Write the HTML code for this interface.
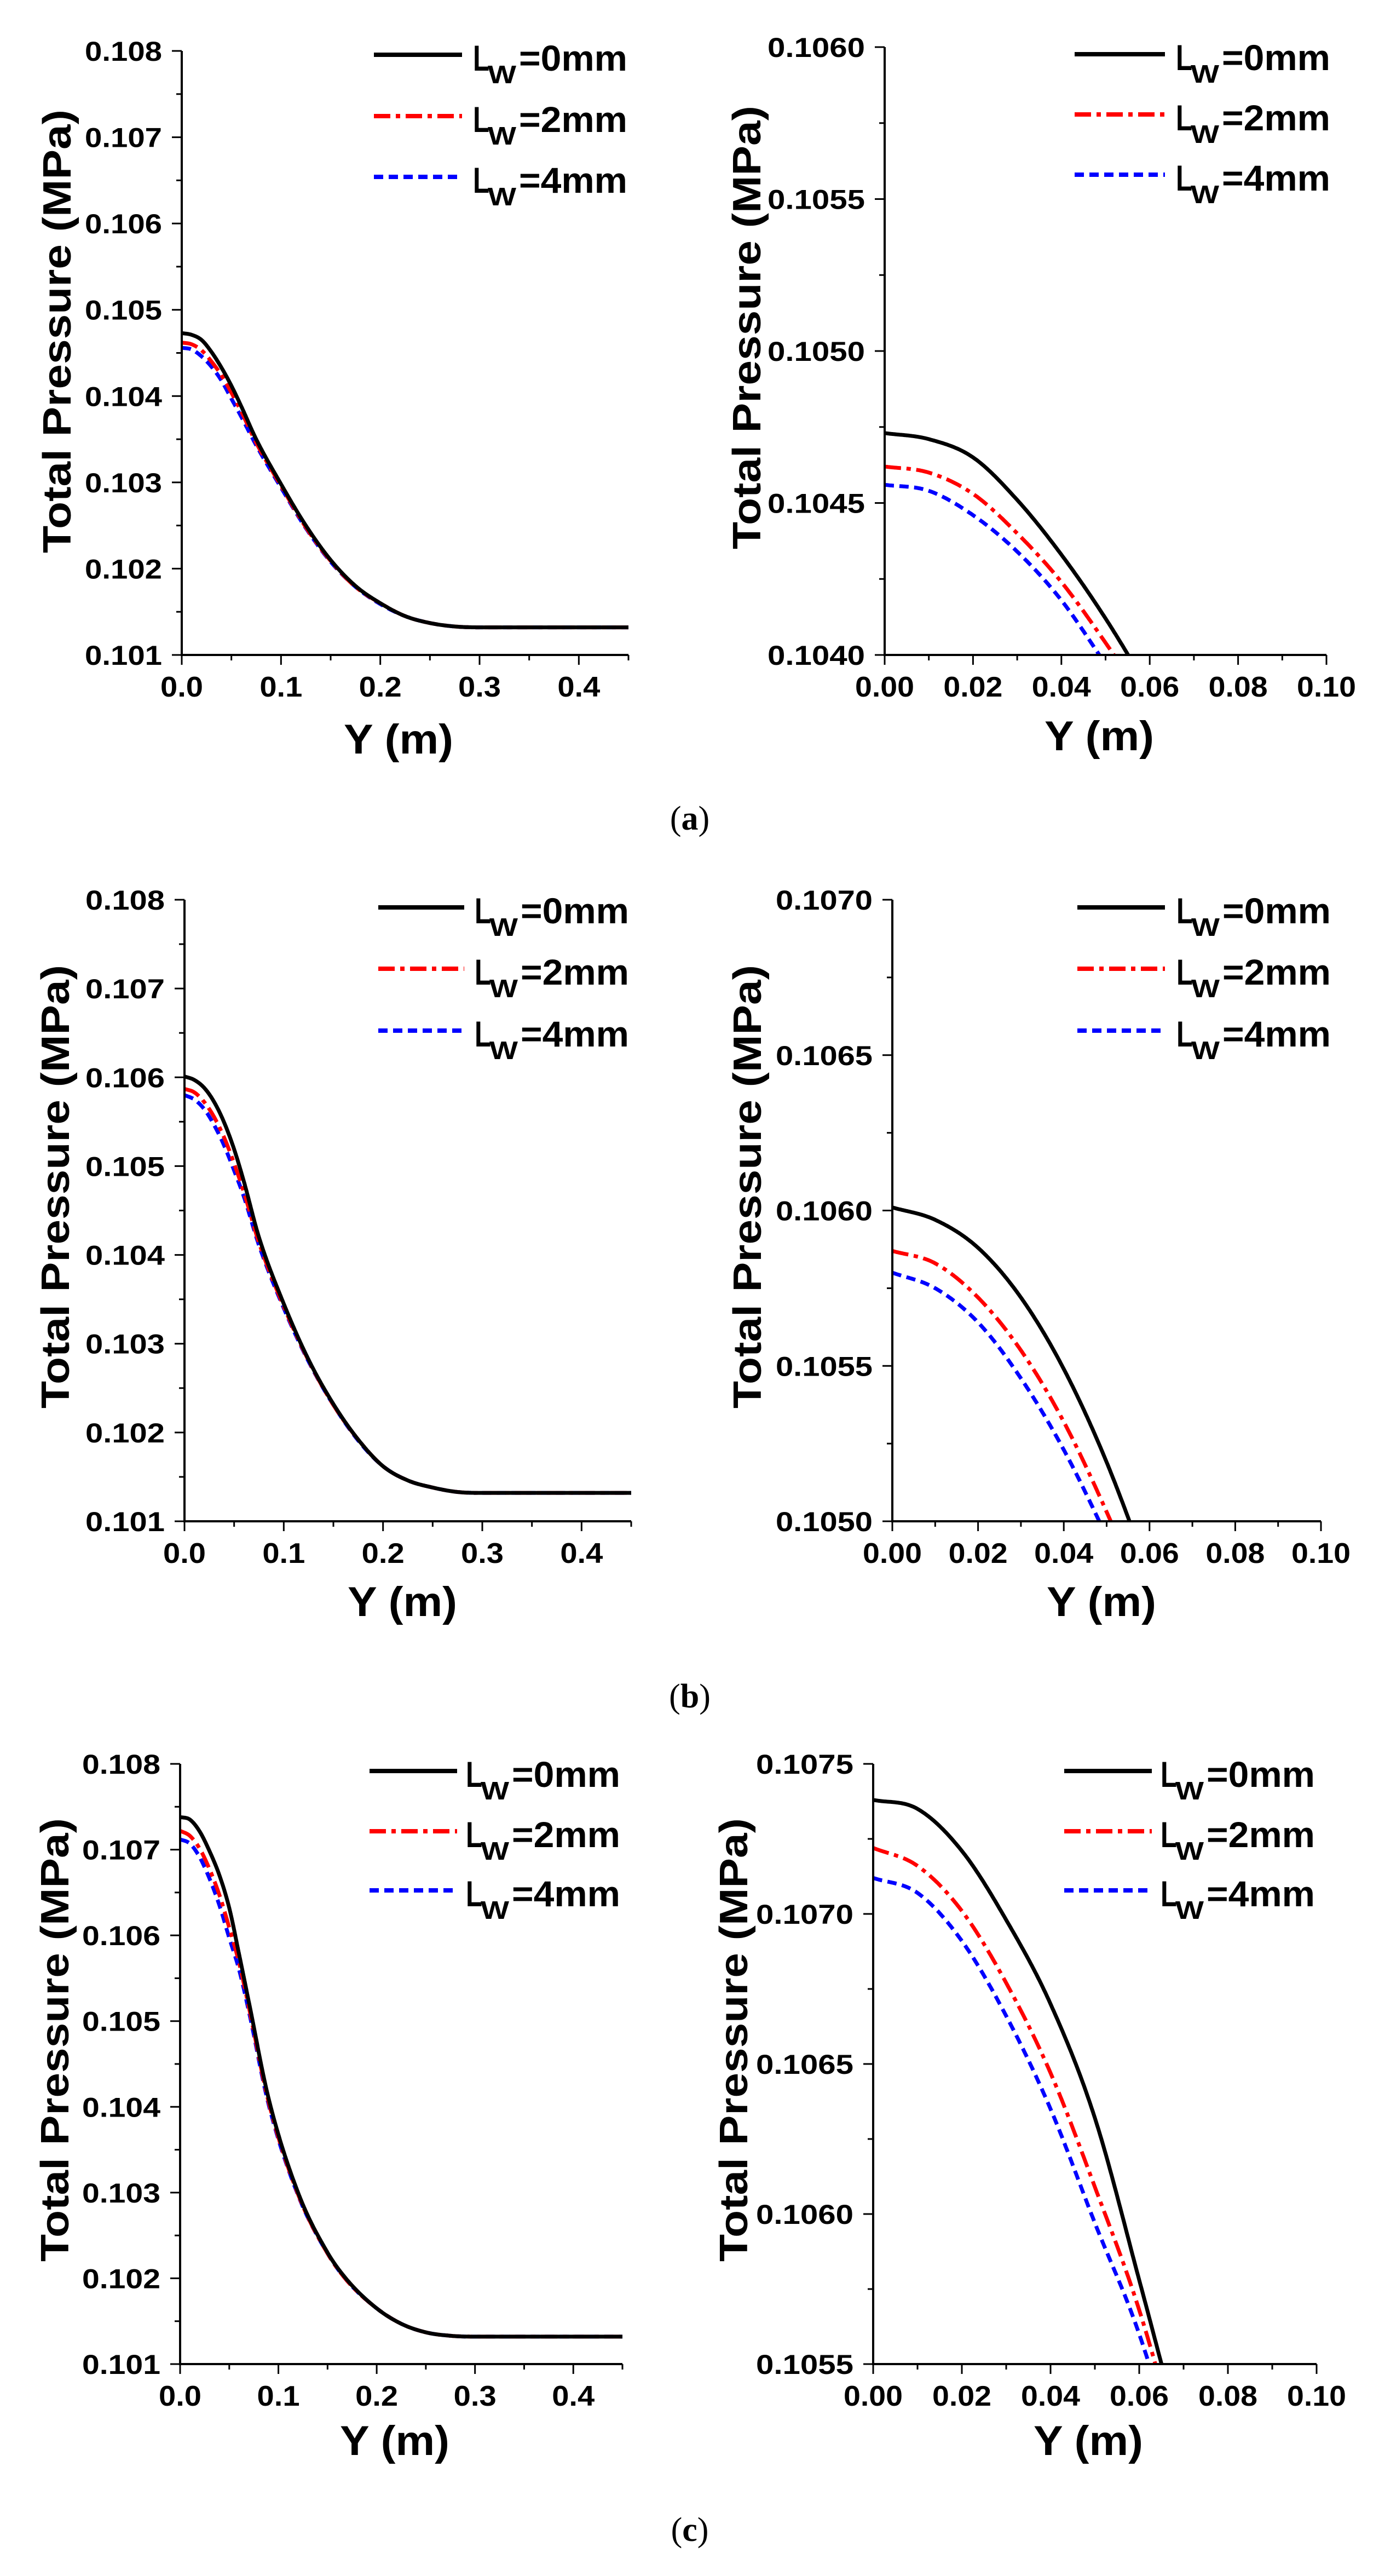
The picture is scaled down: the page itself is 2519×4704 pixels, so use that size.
<!DOCTYPE html>
<html><head><meta charset="utf-8"><title>Total Pressure vs Y</title>
<style>html,body{margin:0;padding:0;background:#fff;width:2519px;height:4704px;overflow:hidden}svg{display:block}</style></head>
<body>
<svg id="fig" xmlns="http://www.w3.org/2000/svg" width="2519" height="4704" viewBox="0 0 2519 4704">
<rect width="2519" height="4704" fill="#fff"/>
</svg>
<script>
// ---- data ----
const xA = [0,0.01,0.02,0.03,0.04,0.05,0.06,0.075,0.1,0.125,0.15,0.175,0.2,0.225,0.25,0.275,0.3,0.45];
const blackA = [0.10473,0.10471,0.10465,0.10451,0.10433,0.10412,0.10388,0.10350,0.10298,0.10250,0.10210,0.10180,0.10160,0.10145,0.10137,0.10133,0.10132,0.10132];
const redA = [0.10462,0.10460,0.10453,0.10440,0.10424,0.10404,0.10382,0.10346,0.10296,0.10248,0.10209,0.10179,0.10160,0.10145,0.10137,0.10133,0.10132,0.10132];
const blueA = [0.10456,0.10454,0.10446,0.10434,0.10418,0.10397,0.10376,0.10343,0.10294,0.10247,0.10208,0.10179,0.10159,0.10145,0.10137,0.10133,0.10132,0.10132];

const xB = [0,0.01,0.02,0.03,0.04,0.05,0.06,0.075,0.1,0.125,0.15,0.175,0.2,0.225,0.25,0.275,0.3,0.45];
const blackB = [0.10601,0.10597,0.10588,0.10572,0.10549,0.10519,0.10482,0.10420,0.10345,0.10282,0.10232,0.10192,0.10162,0.10146,0.10138,0.10133,0.10132,0.10132];
const redB = [0.10587,0.10583,0.10572,0.10555,0.10532,0.10503,0.10470,0.10414,0.10342,0.10281,0.10231,0.10192,0.10162,0.10146,0.10138,0.10133,0.10132,0.10132];
const blueB = [0.10580,0.10575,0.10564,0.10546,0.10523,0.10495,0.10465,0.10411,0.10340,0.10280,0.10231,0.10191,0.10162,0.10146,0.10138,0.10133,0.10132,0.10132];

const xC = [0,0.01,0.02,0.03,0.04,0.05,0.06,0.07,0.09,0.12,0.15,0.17,0.2,0.225,0.25,0.275,0.3,0.45];
const blackC = [0.10738,0.10735,0.10721,0.10698,0.10670,0.10632,0.10578,0.10522,0.10410,0.10300,0.10230,0.10198,0.10165,0.10147,0.10137,0.10133,0.10132,0.10132];
const redC = [0.10722,0.10716,0.10701,0.10677,0.10647,0.10609,0.10568,0.10516,0.10406,0.10298,0.10229,0.10197,0.10165,0.10147,0.10137,0.10133,0.10132,0.10132];
const blueC = [0.10712,0.10707,0.10691,0.10666,0.10635,0.10597,0.10560,0.10511,0.10403,0.10297,0.10229,0.10197,0.10165,0.10147,0.10137,0.10133,0.10132,0.10132];

const legendSuffix = ["=0mm","=2mm","=4mm"];

// ---- rendering ----
const NS = "http://www.w3.org/2000/svg";
const svg = document.getElementById("fig");
function el(tag, attrs, parent){
  const e = document.createElementNS(NS, tag);
  for (const k in attrs) e.setAttribute(k, attrs[k]);
  (parent||svg).appendChild(e);
  return e;
}
const styles = [
  {stroke:"#000", dash:"", w:7},
  {stroke:"#ff0000", dash:"30 10 8 10", w:7},
  {stroke:"#0000ff", dash:"17 10", w:7}
];
function monotone(xs, ys){
  const n = xs.length, d=[], m=new Array(n);
  for(let i=0;i<n-1;i++) d.push((ys[i+1]-ys[i])/(xs[i+1]-xs[i]));
  m[0]=d[0]; m[n-1]=d[n-2];
  for(let i=1;i<n-1;i++){ m[i] = (d[i-1]*d[i]<=0)?0:(d[i-1]+d[i])/2; }
  for(let i=0;i<n-1;i++){
    if(d[i]===0){m[i]=0;m[i+1]=0;continue;}
    const a=m[i]/d[i], b=m[i+1]/d[i], s=a*a+b*b;
    if(s>9){const t=3/Math.sqrt(s); m[i]=t*a*d[i]; m[i+1]=t*b*d[i];}
  }
  const pts=[];
  for(let i=0;i<n-1;i++){
    const h=xs[i+1]-xs[i];
    for(let k=0;k<40;k++){
      const t=k/40, t2=t*t, t3=t2*t;
      const y=(2*t3-3*t2+1)*ys[i]+(t3-2*t2+t)*h*m[i]+(-2*t3+3*t2)*ys[i+1]+(t3-t2)*h*m[i+1];
      pts.push([xs[i]+t*h,y]);
    }
  }
  pts.push([xs[n-1],ys[n-1]]);
  return pts;
}

const rows = [
  {xs:xA, s:[blackA,redA,blueA], label:{y:1515},
   panels:[
    {x0:332,x1:1148,yt:93,yb:1196,ymin:0.101,ymax:0.108,xmax:0.45,yMaj:0.001,xMaj:0.1,yd:3,xd:1,ylw:141,xlw:78,
     leg:{lx0:683,lx1:844,ly:[100,212,323],tx:864},ytx:129,ytc:605,xtc:728,xtb:1376},
    {x0:1616,x1:2423,yt:86,yb:1196,ymin:0.104,ymax:0.106,xmax:0.1,yMaj:0.0005,xMaj:0.02,yd:4,xd:2,ylw:178,xlw:108,
     leg:{lx0:1963,lx1:2128,ly:[99,209,319],tx:2148},ytx:1389,ytc:598,xtc:2008,xtb:1370}]},
  {xs:xB, s:[blackB,redB,blueB], label:{y:3118},
   panels:[
    {x0:337,x1:1153,yt:1643,yb:2778,ymin:0.101,ymax:0.108,xmax:0.45,yMaj:0.001,xMaj:0.1,yd:3,xd:1,ylw:145,xlw:78,
     leg:{lx0:691,lx1:848,ly:[1657,1769,1882],tx:867},ytx:126,ytc:2167,xtc:735,xtb:2951},
    {x0:1630,x1:2413,yt:1643,yb:2778,ymin:0.105,ymax:0.107,xmax:0.1,yMaj:0.0005,xMaj:0.02,yd:4,xd:2,ylw:177,xlw:108,
     leg:{lx0:1968,lx1:2128,ly:[1657,1769,1882],tx:2149},ytx:1390,ytc:2167,xtc:2012,xtb:2951}]},
  {xs:xC, s:[blackC,redC,blueC], label:{y:4640},
   panels:[
    {x0:329,x1:1137,yt:3221,yb:4317,ymin:0.101,ymax:0.108,xmax:0.45,yMaj:0.001,xMaj:0.1,yd:3,xd:1,ylw:143,xlw:78,
     leg:{lx0:675,lx1:835,ly:[3234,3344,3452],tx:851},ytx:125,ytc:3725,xtc:721,xtb:4483},
    {x0:1595,x1:2405,yt:3221,yb:4317,ymin:0.1055,ymax:0.1075,xmax:0.1,yMaj:0.0005,xMaj:0.02,yd:4,xd:2,ylw:178,xlw:108,
     leg:{lx0:1944,lx1:2104,ly:[3234,3344,3452],tx:2120},ytx:1365,ytc:3725,xtc:1988,xtb:4483}]}
];

const FONT = '"Liberation Sans", Arial, sans-serif';
let clipId = 0;
rows.forEach((row, ri) => {
  row.panels.forEach((p, pi) => {
    const g = el("g", {});
    
    
    const sx = v => p.x0 + (v/p.xmax)*(p.x1-p.x0);
    const sy = v => p.yb - (v-p.ymin)/(p.ymax-p.ymin)*(p.yb-p.yt);
    const cid = "c"+(clipId++);
    const cp = el("clipPath",{id:cid},g);
    el("rect",{x:p.x0,y:p.yt-4,width:p.x1-p.x0+4,height:p.yb-p.yt+4},cp);
    const sg = el("g",{"clip-path":"url(#"+cid+")"},g);
    [2,1,0].forEach(si => {
      const pts = monotone(row.xs, row.s[si]);
      const d = pts.map((q,i)=>(i?"L":"M")+sx(q[0]).toFixed(1)+" "+sy(q[1]).toFixed(1)).join("");
      const path = el("path",{d:d,fill:"none",stroke:styles[si].stroke,"stroke-width":styles[si].w,"stroke-dasharray":styles[si].dash,"stroke-linejoin":"round"},sg);
      
      
    });
    const ax = el("path",{d:`M${p.x0} ${p.yt}V${p.yb}H${p.x1}`,fill:"none",stroke:"#000","stroke-width":4},g);
    
    
    const ny = Math.round((p.ymax-p.ymin)/p.yMaj);
    for(let i=0;i<=ny*2;i++){
      const v = p.ymin + i*p.yMaj/2, y = sy(v), major = i%2===0;
      el("line",{x1:p.x0-(major?18:10),x2:p.x0,y1:y,y2:y,stroke:"#000","stroke-width":3},g);
      if(major){
        const t = el("text",{x:p.x0-36,y:y+18,"text-anchor":"end","font-family":FONT,"font-weight":"bold","font-size":50,textLength:p.ylw,lengthAdjust:"spacingAndGlyphs"},g);
        t.textContent = v.toFixed(p.yd);
        
        
      }
    }
    const nx = Math.round(p.xmax/(p.xMaj/2));
    for(let i=0;i<=nx;i++){
      const v = i*p.xMaj/2, x = sx(v), major = i%2===0;
      el("line",{x1:x,x2:x,y1:p.yb,y2:p.yb+(major?18:10),stroke:"#000","stroke-width":3},g);
      if(major){
        const t = el("text",{x:x,y:p.yb+76,"text-anchor":"middle","font-family":FONT,"font-weight":"bold","font-size":52,textLength:p.xlw,lengthAdjust:"spacingAndGlyphs"},g);
        t.textContent = v.toFixed(p.xd);
        
        
      }
    }
    const yt = el("text",{x:0,y:0,transform:`translate(${p.ytx},${p.ytc}) rotate(-90)`,"text-anchor":"middle","font-family":FONT,"font-weight":"bold","font-size":72,textLength:810,lengthAdjust:"spacingAndGlyphs"},g);
    yt.textContent = "Total Pressure (MPa)";
    
    
    const xt = el("text",{x:p.xtc,y:p.xtb,"text-anchor":"middle","font-family":FONT,"font-weight":"bold","font-size":76,textLength:200,lengthAdjust:"spacingAndGlyphs"},g);
    xt.textContent = "Y (m)";
    
    
    const L = p.leg;
    for(let si=0;si<3;si++){
      const lg = el("g",{},g);
      
      
      const ly = L.ly[si];
      el("line",{x1:L.lx0,x2:L.lx1,y1:ly,y2:ly,stroke:styles[si].stroke,"stroke-width":8,"stroke-dasharray":styles[si].dash},lg);
      const t1 = el("text",{x:L.tx,y:ly+29,"font-family":FONT,"font-weight":"bold","font-size":66,textLength:30,lengthAdjust:"spacingAndGlyphs"},lg);
      t1.textContent = "L";
      const t2 = el("text",{x:L.tx+27,y:ly+52,"font-family":FONT,"font-weight":"bold","font-size":46,textLength:52,lengthAdjust:"spacingAndGlyphs"},lg);
      t2.textContent = "W";
      const t3 = el("text",{x:L.tx+84,y:ly+29,"font-family":FONT,"font-weight":"bold","font-size":66,textLength:198,lengthAdjust:"spacingAndGlyphs"},lg);
      t3.textContent = legendSuffix[si];
    }
  });
  const lab = el("text",{x:1260,y:row.label.y,"text-anchor":"middle","font-family":'"Liberation Serif", serif',"font-size":62});
  
  
  const p1 = el("tspan",{},lab); p1.textContent="(";
  const p2 = el("tspan",{"font-weight":"bold"},lab); p2.textContent="abc"[ri];
  const p3 = el("tspan",{},lab); p3.textContent=")";
});
</script>
</body></html>
